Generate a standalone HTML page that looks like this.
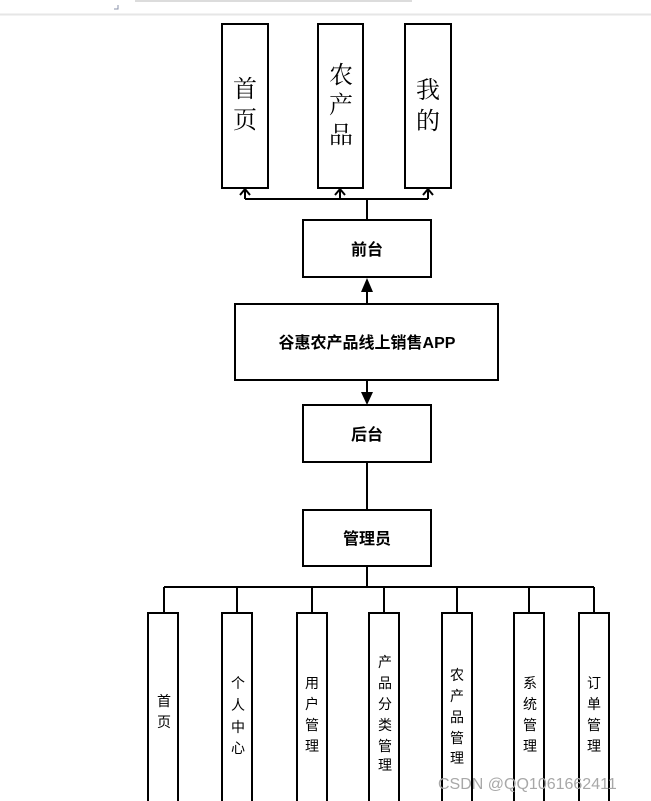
<!DOCTYPE html>
<html><head><meta charset="utf-8"><style>
html,body{margin:0;padding:0;background:#fff;width:651px;height:801px;overflow:hidden}
svg{display:block}
text{font-family:"Liberation Sans","Noto Sans CJK SC",sans-serif;fill:#000}
</style></head><body>
<svg width="651" height="801" viewBox="0 0 651 801">
<rect x="0" y="0" width="651" height="14" fill="#fff"/>
<line x1="0" y1="14.5" x2="651" y2="14.5" stroke="#e6e6e6" stroke-width="2"/>
<line x1="135" y1="1" x2="412" y2="1" stroke="#d0d0d0" stroke-width="1.5"/>
<path d="M118 5 v4 h-4" stroke="#8890a8" fill="none" stroke-width="1"/>
<g stroke="#000" stroke-width="2" fill="#fff">
<rect x="222" y="24" width="46" height="164"/>
<rect x="318" y="24" width="45" height="164"/>
<rect x="405" y="24" width="46" height="164"/>
<rect x="303" y="220" width="128" height="57"/>
<rect x="235" y="304" width="263" height="76"/>
<rect x="303" y="405" width="128" height="57"/>
<rect x="303" y="510" width="128" height="56"/>
<rect x="148" y="613" width="30" height="200"/>
<rect x="222" y="613" width="30" height="200"/>
<rect x="297" y="613" width="30" height="200"/>
<rect x="369" y="613" width="30" height="200"/>
<rect x="442" y="613" width="30" height="200"/>
<rect x="514" y="613" width="30" height="200"/>
<rect x="579" y="613" width="30" height="200"/>
</g>
<g stroke="#000" stroke-width="2" fill="none">
<path d="M367 220 V199 M245 199 H428 M245 199 V190 M340 199 V190 M428 199 V190"/>
<path d="M240 195 L245 189 L250 195 M335 195 L340 189 L345 195 M423 195 L428 189 L433 195"/>
<path d="M367 304 V290 M367 380 V393 M367 462 V510 M367 566 V587 M164 587 H594"/>
<path d="M164 587 V613 M237 587 V613 M312 587 V613 M384 587 V613 M457 587 V613 M529 587 V613 M594 587 V613"/>
</g>
<polygon points="361,292 373,292 367,278" fill="#000"/>
<polygon points="361,392 373,392 367,405" fill="#000"/>
<g font-size="24" text-anchor="middle" font-family="Noto Serif CJK SC, serif">
<text x="245" y="97" style="font-family:'Noto Serif CJK SC',serif">首</text>
<text x="245" y="128" style="font-family:'Noto Serif CJK SC',serif">页</text>
<text x="341" y="83" style="font-family:'Noto Serif CJK SC',serif">农</text>
<text x="341" y="113" style="font-family:'Noto Serif CJK SC',serif">产</text>
<text x="341" y="143" style="font-family:'Noto Serif CJK SC',serif">品</text>
<text x="428" y="98" style="font-family:'Noto Serif CJK SC',serif">我</text>
<text x="428" y="129" style="font-family:'Noto Serif CJK SC',serif">的</text>
</g>
<g font-size="16" font-weight="bold" text-anchor="middle">
<text x="367" y="255">前台</text>
<text x="367" y="348">谷惠农产品线上销售APP</text>
<text x="367" y="440">后台</text>
<text x="367" y="544">管理员</text>
</g>
<g font-size="14" text-anchor="middle">
<text x="164" y="706">首</text><text x="164" y="727">页</text>
<text x="238" y="688">个</text><text x="238" y="710">人</text><text x="238" y="732">中</text><text x="238" y="753">心</text>
<text x="312" y="688">用</text><text x="312" y="709">户</text><text x="312" y="730">管</text><text x="312" y="751">理</text>
<text x="385" y="667">产</text><text x="385" y="688">品</text><text x="385" y="709">分</text><text x="385" y="730">类</text><text x="385" y="751">管</text><text x="385" y="770">理</text>
<text x="457" y="680">农</text><text x="457" y="701">产</text><text x="457" y="722">品</text><text x="457" y="743">管</text><text x="457" y="763">理</text>
<text x="530" y="688">系</text><text x="530" y="709">统</text><text x="530" y="730">管</text><text x="530" y="751">理</text>
<text x="594" y="688">订</text><text x="594" y="709">单</text><text x="594" y="730">管</text><text x="594" y="751">理</text>
</g>
<text x="438" y="789" font-size="16" fill="#b0b0b0" style="fill:#a8a8a8">CSDN @QQ1061662411</text>
</svg>
</body></html>
